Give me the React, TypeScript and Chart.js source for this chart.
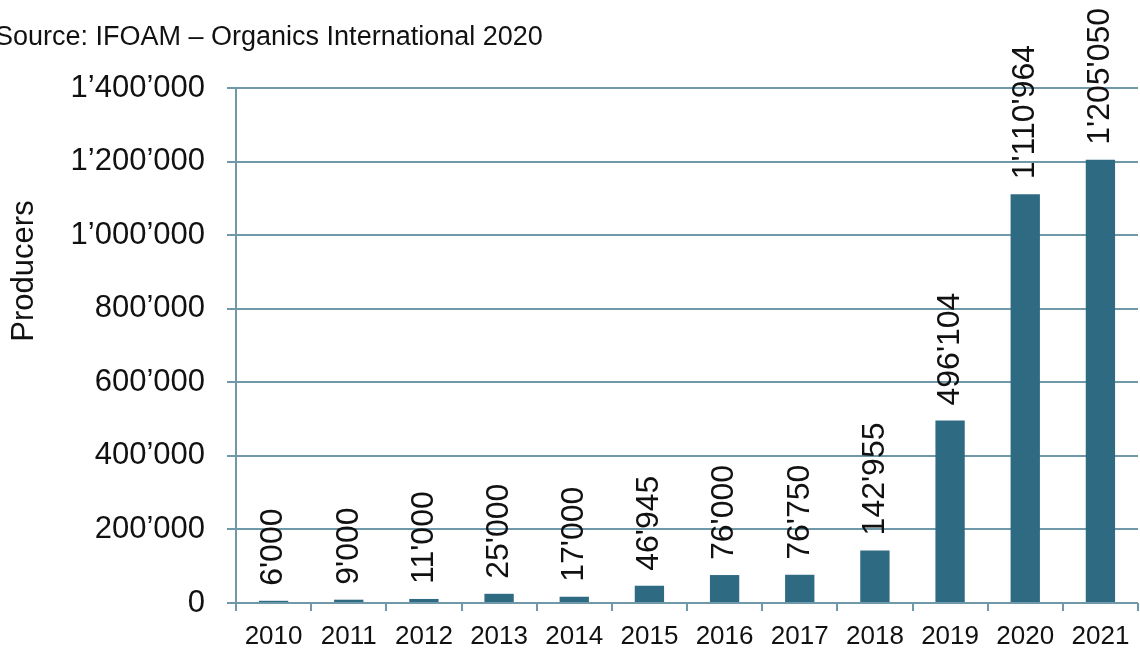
import React, { useEffect, useRef } from "react";
import { Chart, registerables } from "chart.js";

Chart.register(...registerables);

const years = ["2010", "2011", "2012", "2013", "2014", "2015", "2016", "2017", "2018", "2019", "2020", "2021"];
const producers = [6000, 9000, 11000, 25000, 17000, 46945, 76000, 76750, 142955, 496104, 1110964, 1205050];
const sourceText = "Source: IFOAM \u2013 Organics International 2020";
const yTitle = "Producers";

const BAR = "#2e6a82";
const GRID = "#6f98a8";
const FONT = "'Liberation Sans', Arial, sans-serif";

function groupDigits(v: number, sep: string): string {
  const s = Math.round(v).toString();
  return s.replace(/\B(?=(\d{3})+(?!\d))/g, sep);
}

const labelsPlugin = {
  id: "customText",
  afterDatasetsDraw(chart: any) {
    const ctx = chart.ctx;
    const meta = chart.getDatasetMeta(0);
    ctx.save();
    ctx.fillStyle = "#111";
    ctx.font = `32px ${FONT}`;
    meta.data.forEach((el: any, i: number) => {
      ctx.save();
      ctx.translate(el.x, el.y - 15);
      ctx.rotate(-Math.PI / 2);
      ctx.textAlign = "left";
      ctx.textBaseline = "middle";
      ctx.fillText(groupDigits(producers[i], "'"), 0, 0);
      ctx.restore();
    });
    // source
    ctx.font = `27px ${FONT}`;
    ctx.textAlign = "left";
    ctx.textBaseline = "alphabetic";
    ctx.fillText(sourceText, -5, 45);
    // y title
    ctx.save();
    ctx.translate(24, 271);
    ctx.rotate(-Math.PI / 2);
    ctx.textAlign = "center";
    ctx.textBaseline = "middle";
    ctx.font = `31px ${FONT}`;
    ctx.fillText(yTitle, 0, 0);
    ctx.restore();
    ctx.restore();
  },
};

export default function App() {
  const ref = useRef<HTMLCanvasElement>(null);
  useEffect(() => {
    if (!ref.current) return;
    const chart = new Chart(ref.current, {
      type: "bar",
      data: {
        labels: years,
        datasets: [
          {
            data: producers,
            backgroundColor: BAR,
            borderWidth: 0,
            barPercentage: 0.39,
            categoryPercentage: 1,
          },
        ],
      },
      options: {
        animation: false,
        responsive: false,
        maintainAspectRatio: false,
        layout: { padding: { top: 88, right: 2, left: 0, bottom: 0 } },
        plugins: { legend: { display: false }, tooltip: { enabled: false }, title: { display: false } },
        scales: {
          x: {
            afterFit(scale: any) {
              scale.height = 50;
            },
            grid: {
              display: true,
              drawOnChartArea: false,
              drawTicks: true,
              tickLength: 8,
              color: GRID,
              lineWidth: 2,
              offset: true,
            },
            border: { display: false },
            ticks: {
              color: "#111",
              font: { family: FONT, size: 26 },
              padding: 10,
              maxRotation: 0,
              autoSkip: false,
            },
          },
          y: {
            min: 0,
            max: 1400000,
            afterFit(scale: any) {
              scale.width = 236;
            },
            grid: {
              color: GRID,
              lineWidth: 2,
              tickLength: 9,
            },
            border: { display: true, color: GRID, width: 2 },
            ticks: {
              stepSize: 200000,
              color: "#111",
              font: { family: FONT, size: 31 },
              padding: 22,
              callback: (v: any) => groupDigits(Number(v), "\u2019"),
            },
          },
        },
      },
      plugins: [labelsPlugin],
    });
    return () => chart.destroy();
  }, []);
  return (
    <div style={{ position: "absolute", left: 0, top: 0, width: 1140, height: 653, background: "#fff" }}>
      <canvas ref={ref} width={1140} height={653} style={{ display: "block" }} />
    </div>
  );
}
